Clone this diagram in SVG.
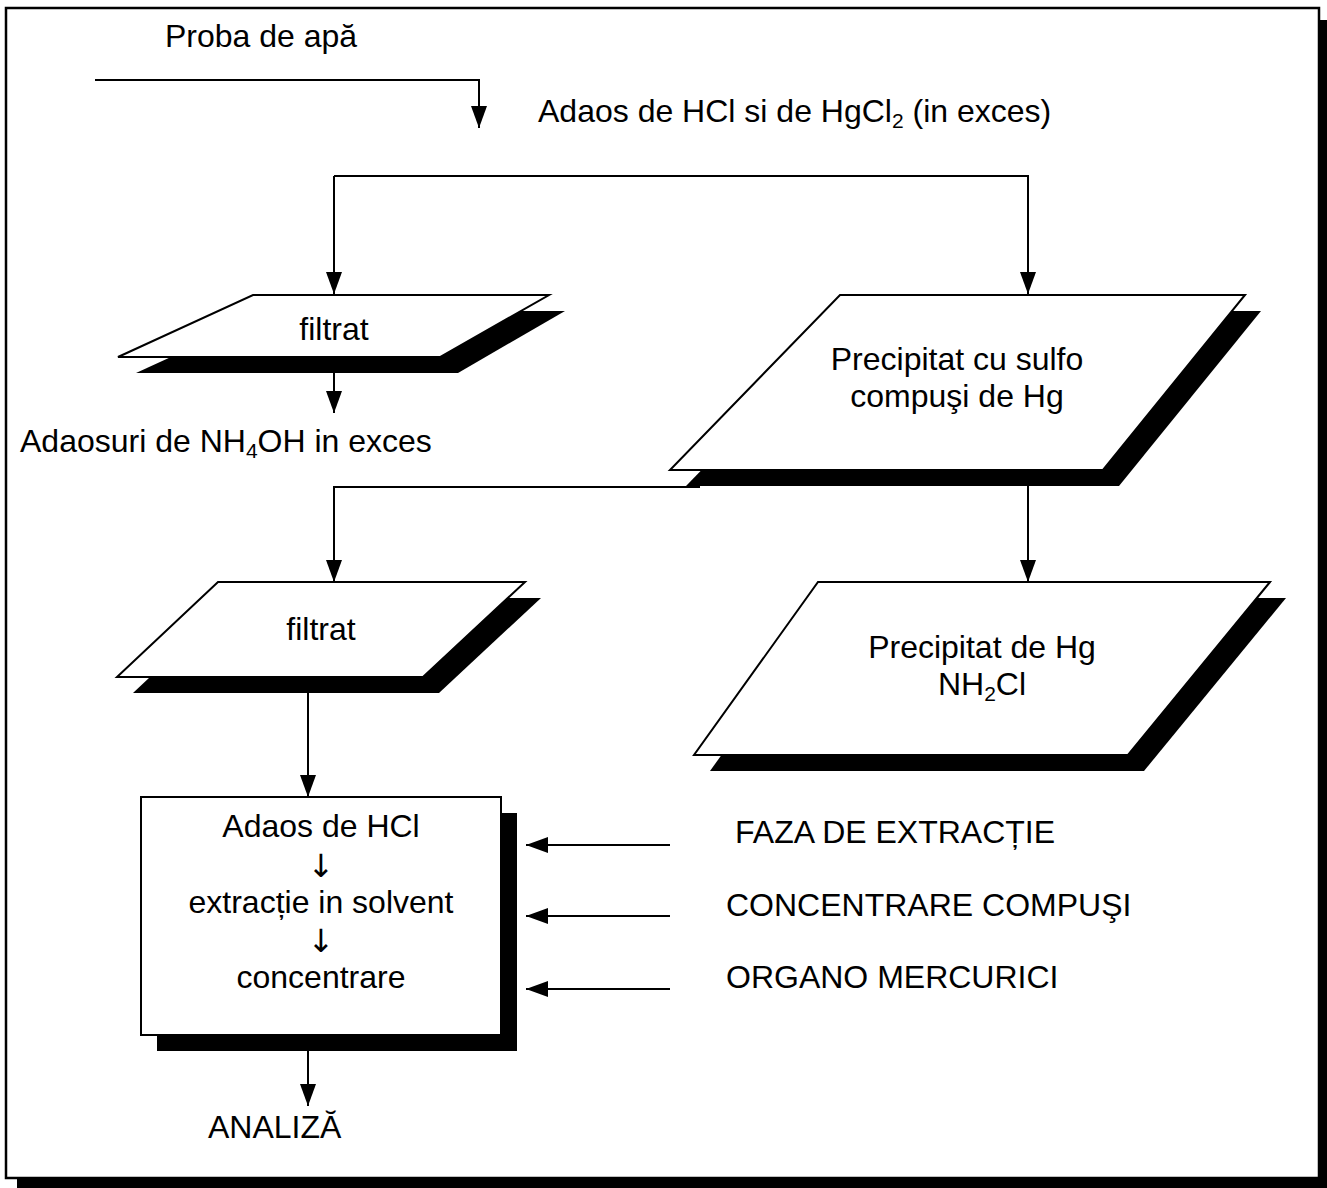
<svg xmlns="http://www.w3.org/2000/svg" width="1327" height="1188" viewBox="0 0 1327 1188">
<defs>
<marker id="ah" markerWidth="22" markerHeight="16" refX="22" refY="8" orient="auto" markerUnits="userSpaceOnUse" viewBox="0 0 22 16">
<path d="M0,0 L22,8 L0,16 Z" fill="#000"/>
</marker>
</defs>
<style>
text{font-family:"Liberation Sans",Arial,sans-serif;font-size:32px;fill:#000}
.c{text-anchor:middle}
.arr{font-family:"DejaVu Sans",sans-serif;font-size:32px;fill:#000}
.shape{fill:#fff;stroke:#000;stroke-width:2}
.shadow{fill:#000}
.ln{fill:none;stroke:#000;stroke-width:2}
</style>
<rect x="0" y="0" width="1327" height="1188" fill="#fff"/>
<g id="frame">
<rect x="1319" y="20" width="8" height="1168" fill="#000"/>
<rect x="17" y="1178" width="1310" height="10" fill="#000"/>
<rect x="6" y="8" width="1313" height="1170" fill="#fff" stroke="#000" stroke-width="2.5"/>
</g>
<g id="connectors">
<path class="ln" d="M95,80 H479 V128" marker-end="url(#ah)"/>
<path class="ln" d="M334,176 H1028 V294" marker-end="url(#ah)"/>
<path class="ln" d="M334,176 V294" marker-end="url(#ah)"/>
<path class="ln" d="M334,373 V413" marker-end="url(#ah)"/>
<path class="ln" d="M700,487 H334 V582" marker-end="url(#ah)"/>
<path class="ln" d="M1028,486 V582" marker-end="url(#ah)"/>
<path class="ln" d="M308,693 V797" marker-end="url(#ah)"/>
<path class="ln" d="M308,1051 V1106" marker-end="url(#ah)"/>
<path class="ln" d="M670,845 H526" marker-end="url(#ah)"/>
<path class="ln" d="M670,916 H526" marker-end="url(#ah)"/>
<path class="ln" d="M670,989 H526" marker-end="url(#ah)"/>
</g>
<g id="proba">
<text x="165" y="47">Proba de apă</text>
</g>
<g id="adaos-hcl-hgcl2">
<text x="538" y="122">Adaos de HCl si de HgCl<tspan font-size="21" dy="6">2</tspan><tspan dy="-6"> (in exces)</tspan></text>
</g>
<g id="filtrat1">
<polygon class="shadow" points="271,311 565,311 458,373 136,373"/>
<polygon class="shape" points="253,295 549,295 440,357 118,357"/>
<text class="c" x="334" y="340">filtrat</text>
</g>
<g id="adaosuri-nh4oh">
<text x="20" y="452">Adaosuri de NH<tspan font-size="21" dy="6">4</tspan><tspan dy="-6">OH in exces</tspan></text>
</g>
<g id="precipitat1">
<polygon class="shadow" points="856,311 1261,311 1119,486 686,486"/>
<polygon class="shape" points="840,295 1245,295 1103,470 670,470"/>
<text class="c" x="957" y="370">Precipitat cu sulfo</text>
<text class="c" x="957" y="407">compuşi de Hg</text>
</g>
<g id="filtrat2">
<polygon class="shadow" points="234,598 541,598 439,693 133,693"/>
<polygon class="shape" points="218,582 525,582 423,677 117,677"/>
<text class="c" x="321" y="640">filtrat</text>
</g>
<g id="precipitat2">
<polygon class="shadow" points="834,598 1286,598 1144,771 710,771"/>
<polygon class="shape" points="818,582 1270,582 1128,755 694,755"/>
<text class="c" x="982" y="658">Precipitat de Hg</text>
<text class="c" x="982" y="695">NH<tspan font-size="21" dy="6">2</tspan><tspan dy="-6">Cl</tspan></text>
</g>
<g id="extractie-box">
<rect class="shadow" x="157" y="813" width="360" height="238"/>
<rect class="shape" x="141" y="797" width="360" height="238"/>
<text class="c" x="321" y="837">Adaos de HCl</text>
<text class="c arr" x="321" y="877">↓</text>
<text class="c" x="321" y="913">extracție in solvent</text>
<text class="c arr" x="321" y="952">↓</text>
<text class="c" x="321" y="988">concentrare</text>
</g>
<g id="analiza">
<text x="208" y="1138">ANALIZĂ</text>
</g>
<g id="labels-right">
<text x="735" y="843">FAZA DE EXTRACȚIE</text>
<text x="726" y="916">CONCENTRARE COMPUŞI</text>
<text x="726" y="988">ORGANO MERCURICI</text>
</g>
</svg>
